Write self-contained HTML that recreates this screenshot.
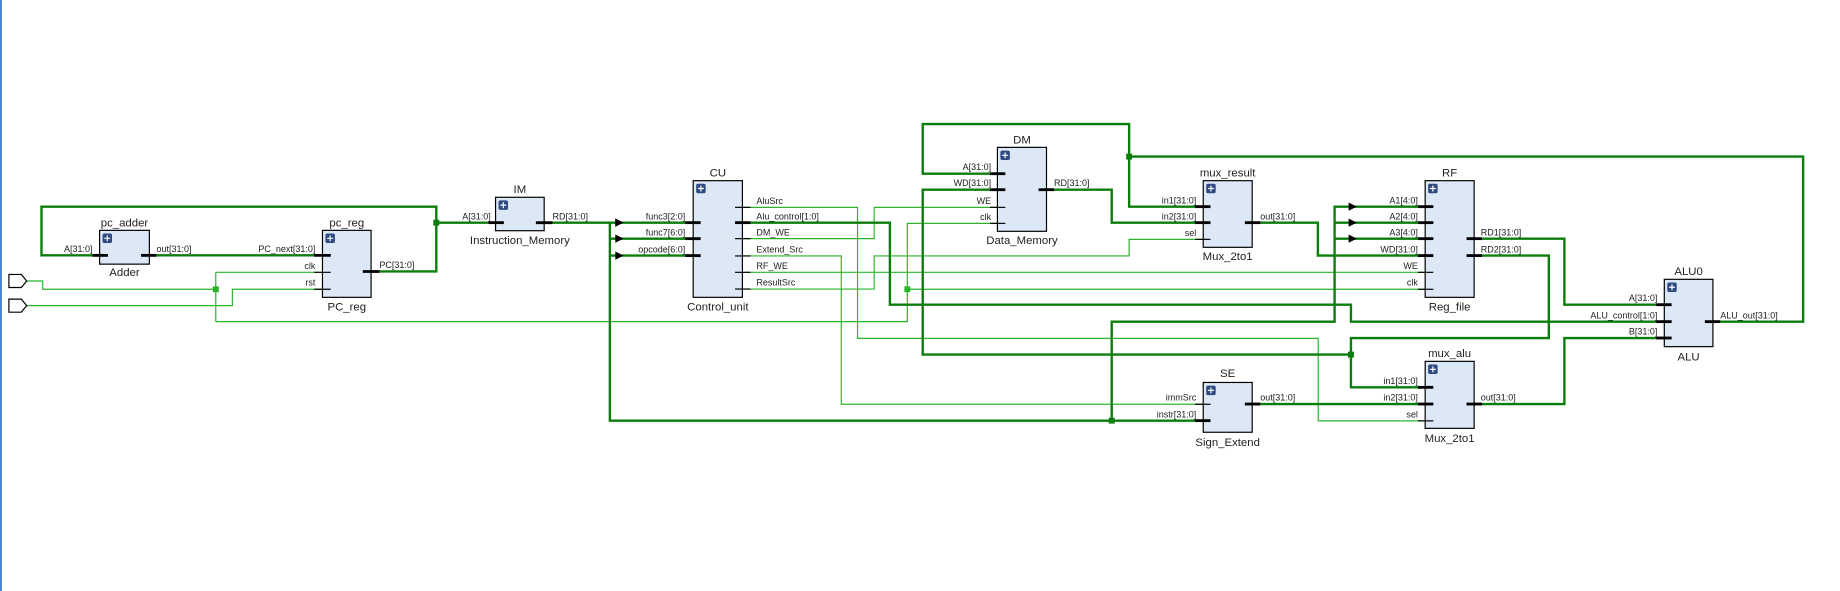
<!DOCTYPE html>
<html><head><meta charset="utf-8"><style>
html,body{margin:0;padding:0;background:#fff;width:1840px;height:591px;overflow:hidden}
svg{display:block}
text{font-family:"Liberation Sans",sans-serif;fill:#222}
.p{font-size:7.6px}
.t{font-size:9.6px}
.k{fill:none;stroke:#0b7d0b;stroke-width:2}
.n{fill:none;stroke:#2bb52b;stroke-width:1}
.b{fill:#dde8f6;stroke:#000;stroke-width:1}
.s{stroke:#000;stroke-width:2.4}
.s1{stroke:#000;stroke-width:1}
.j{fill:#0b7d0b}
.jn{fill:#2bb52b}
</style></head><body>
<svg width="1840" height="591" viewBox="0 0 1552 498.5" preserveAspectRatio="none">
<rect x="0" y="0" width="1.6" height="498.5" fill="#4a7fd0"/>
<!-- thin wires -->
<g class="n">
<path d="M22 237H36V244H182M182 229.7V271.3M182 229.7H272M182 271.3H765.3V188.4H841.3M765.3 244H1202.1"/>
<path d="M22 257.8H196V244H272"/>
<path d="M626.2 174.9H723.3V285.4H1111.9V355H1202.1"/>
<path d="M626.2 201.3H737.3V174.9H841.3"/>
<path d="M626.2 215.9H709.6V341H1014.9"/>
<path d="M626.2 229.7H1202.1"/>
<path d="M626.2 243.8H737.3V215.9H952.4V201.9H1014.9"/>
</g>
<rect class="jn" x="179.5" y="241.5" width="5" height="5"/>
<rect class="jn" x="762.8" y="241.5" width="5" height="5"/>
<!-- thick wires -->
<g class="k">
<path d="M84 215.4H35V174.3H368V229H313"/>
<path d="M126 215.4H272"/>
<path d="M368 187.8H418"/>
<path d="M459 187.8H514.4V354.8H1014.9M514.4 201.3H584.7M514.4 215.6H584.7M514.4 187.8H584.7"/>
<path d="M937.7 354.8V271.3H1125.7V174.3H1202.1M1125.7 187.8H1202.1M1125.7 201.3H1202.1"/>
<path d="M626.2 187.8H750.6V257H1139.5V271.3H1403.8"/>
<path d="M841.3 146.5H778.3V104.6H952.4V174.3H1014.9M952.4 132.1H1520.9V271.3H1444.8"/>
<path d="M841.3 160H778.3V299.1H1139.5"/>
<path d="M1243.4 215.6H1306.4V285.1H1139.5V326.7H1202.1"/>
<path d="M882.7 160H937.7V187.8H1014.9"/>
<path d="M1056.2 187.8H1111.6V215.6H1202.1"/>
<path d="M1243.4 201.3H1319.5V257H1403.8"/>
<path d="M1056.2 340.8H1202.1"/>
<path d="M1243.4 340.8H1319.5V285.1H1403.8"/>
</g>
<rect class="j" x="365.5" y="185.3" width="5" height="5"/>
<rect class="j" x="935.2" y="352.3" width="5" height="5"/>
<rect class="j" x="949.9" y="129.6" width="5" height="5"/>
<rect class="j" x="1137" y="296.6" width="5" height="5"/>
<!-- arrowheads -->
<g fill="#000">
<path d="M519 187.8l6 0-6-3.5z M519 187.8l6 0-6 3.5z"/>
<path d="M519 184.3L526 187.8L519 191.3Z"/>
<path d="M519 197.8L526 201.3L519 204.8Z"/>
<path d="M519 212.1L526 215.6L519 219.1Z"/>
<path d="M1137.5 170.8L1144.5 174.3L1137.5 177.8Z"/>
<path d="M1137.5 184.3L1144.5 187.8L1137.5 191.3Z"/>
<path d="M1137.5 197.8L1144.5 201.3L1137.5 204.8Z"/>
</g>
<!-- ports -->
<path d="M7.5 231.5H18L22.5 237L18 242.5H7.5Z" fill="#fff" stroke="#000" stroke-width="1"/>
<path d="M7.5 252.3H18L22.5 257.8L18 263.3H7.5Z" fill="#fff" stroke="#000" stroke-width="1"/>

<!-- pc_adder -->
<rect class="b" x="84" y="194.3" width="42" height="28.5"/>
<text class="t" x="105" y="191" text-anchor="middle">pc_adder</text>
<text class="t" x="105" y="233" text-anchor="middle">Adder</text>
<line class="s" x1="78" y1="215.4" x2="91" y2="215.4"/><line class="s" x1="119" y1="215.4" x2="132" y2="215.4"/>
<text class="p" x="78" y="212.5" text-anchor="end">A[31:0]</text>
<text class="p" x="132" y="212.5">out[31:0]</text>
<!-- pc_reg -->
<rect class="b" x="272" y="194.3" width="41" height="56.5"/>
<text class="t" x="292.5" y="191" text-anchor="middle">pc_reg</text>
<text class="t" x="292.5" y="262" text-anchor="middle">PC_reg</text>
<line class="s" x1="265" y1="215.4" x2="279" y2="215.4"/>
<line class="s1" x1="265" y1="229.7" x2="279" y2="229.7"/>
<line class="s1" x1="265" y1="244" x2="279" y2="244"/>
<line class="s" x1="306" y1="229" x2="320" y2="229"/>
<text class="p" x="266" y="212.5" text-anchor="end">PC_next[31:0]</text>
<text class="p" x="266" y="227" text-anchor="end">clk</text>
<text class="p" x="266" y="241" text-anchor="end">rst</text>
<text class="p" x="320" y="226">PC[31:0]</text>
<!-- IM -->
<rect class="b" x="418" y="166.4" width="41" height="28.2"/>
<text class="t" x="438.5" y="163" text-anchor="middle">IM</text>
<text class="t" x="438.5" y="206" text-anchor="middle">Instruction_Memory</text>
<line class="s" x1="412" y1="187.8" x2="425" y2="187.8"/><line class="s" x1="452" y1="187.8" x2="466" y2="187.8"/>
<text class="p" x="414" y="185" text-anchor="end">A[31:0]</text>
<text class="p" x="466" y="185">RD[31:0]</text>
<!-- CU -->
<rect class="b" x="584.7" y="152.4" width="41.5" height="98.4"/>
<text class="t" x="605.5" y="149" text-anchor="middle">CU</text>
<text class="t" x="605.5" y="262" text-anchor="middle">Control_unit</text>
<line class="s" x1="578" y1="187.8" x2="591" y2="187.8"/><line class="s" x1="578" y1="201.3" x2="591" y2="201.3"/><line class="s" x1="578" y1="215.6" x2="591" y2="215.6"/>
<text class="p" x="578" y="185" text-anchor="end">func3[2:0]</text>
<text class="p" x="578" y="198.5" text-anchor="end">func7[6:0]</text>
<text class="p" x="578" y="212.8" text-anchor="end">opcode[6:0]</text>
<line class="s1" x1="620" y1="174.9" x2="633" y2="174.9"/>
<line class="s" x1="620" y1="187.8" x2="633" y2="187.8"/>
<line class="s1" x1="620" y1="201.3" x2="633" y2="201.3"/>
<line class="s1" x1="620" y1="215.9" x2="633" y2="215.9"/>
<line class="s1" x1="620" y1="229.7" x2="633" y2="229.7"/>
<line class="s1" x1="620" y1="243.8" x2="633" y2="243.8"/>
<text class="p" x="638" y="172">AluSrc</text>
<text class="p" x="638" y="185">Alu_control[1:0]</text>
<text class="p" x="638" y="198.5">DM_WE</text>
<text class="p" x="638" y="213">Extend_Src</text>
<text class="p" x="638" y="227">RF_WE</text>
<text class="p" x="638" y="241">ResultSrc</text>
<!-- DM -->
<rect class="b" x="841.3" y="124.3" width="41.4" height="70.8"/>
<text class="t" x="862" y="121" text-anchor="middle">DM</text>
<text class="t" x="862" y="206" text-anchor="middle">Data_Memory</text>
<line class="s" x1="835" y1="146.5" x2="848" y2="146.5"/><line class="s" x1="835" y1="160" x2="848" y2="160"/>
<line class="s1" x1="835" y1="174.9" x2="848" y2="174.9"/><line class="s1" x1="835" y1="188.4" x2="848" y2="188.4"/>
<line class="s" x1="876" y1="160" x2="889" y2="160"/>
<text class="p" x="836" y="143.5" text-anchor="end">A[31:0]</text>
<text class="p" x="836" y="157" text-anchor="end">WD[31:0]</text>
<text class="p" x="836" y="172" text-anchor="end">WE</text>
<text class="p" x="836" y="185.5" text-anchor="end">clk</text>
<text class="p" x="889" y="157">RD[31:0]</text>
<!-- mux_result -->
<rect class="b" x="1014.9" y="152.4" width="41.3" height="56.2"/>
<text class="t" x="1035.5" y="149" text-anchor="middle">mux_result</text>
<text class="t" x="1035.5" y="219.5" text-anchor="middle">Mux_2to1</text>
<line class="s" x1="1008" y1="174.3" x2="1021" y2="174.3"/><line class="s" x1="1008" y1="187.8" x2="1021" y2="187.8"/>
<line class="s1" x1="1008" y1="201.9" x2="1021" y2="201.9"/><line class="s" x1="1050" y1="187.8" x2="1063" y2="187.8"/>
<text class="p" x="1009" y="171.5" text-anchor="end">in1[31:0]</text>
<text class="p" x="1009" y="185" text-anchor="end">in2[31:0]</text>
<text class="p" x="1009" y="199" text-anchor="end">sel</text>
<text class="p" x="1063" y="185">out[31:0]</text>
<!-- RF -->
<rect class="b" x="1202.1" y="152.4" width="41.3" height="98.4"/>
<text class="t" x="1222.7" y="149" text-anchor="middle">RF</text>
<text class="t" x="1222.7" y="262" text-anchor="middle">Reg_file</text>
<line class="s" x1="1196" y1="174.3" x2="1209" y2="174.3"/><line class="s" x1="1196" y1="187.8" x2="1209" y2="187.8"/>
<line class="s" x1="1196" y1="201.3" x2="1209" y2="201.3"/><line class="s" x1="1196" y1="215.6" x2="1209" y2="215.6"/>
<line class="s1" x1="1196" y1="229.7" x2="1209" y2="229.7"/><line class="s1" x1="1196" y1="244" x2="1209" y2="244"/>
<line class="s" x1="1237" y1="201.3" x2="1250" y2="201.3"/><line class="s" x1="1237" y1="215.6" x2="1250" y2="215.6"/>
<text class="p" x="1196" y="171.5" text-anchor="end">A1[4:0]</text>
<text class="p" x="1196" y="185" text-anchor="end">A2[4:0]</text>
<text class="p" x="1196" y="198.5" text-anchor="end">A3[4:0]</text>
<text class="p" x="1196" y="212.8" text-anchor="end">WD[31:0]</text>
<text class="p" x="1196" y="227" text-anchor="end">WE</text>
<text class="p" x="1196" y="241" text-anchor="end">clk</text>
<text class="p" x="1249" y="198.5">RD1[31:0]</text>
<text class="p" x="1249" y="212.8">RD2[31:0]</text>
<!-- ALU -->
<rect class="b" x="1403.8" y="235.6" width="41" height="56.8"/>
<text class="t" x="1424.3" y="232" text-anchor="middle">ALU0</text>
<text class="t" x="1424.3" y="304" text-anchor="middle">ALU</text>
<line class="s" x1="1397" y1="257" x2="1410" y2="257"/><line class="s" x1="1397" y1="271.3" x2="1410" y2="271.3"/>
<line class="s" x1="1397" y1="285.1" x2="1410" y2="285.1"/><line class="s" x1="1438" y1="271.3" x2="1451" y2="271.3"/>
<text class="p" x="1398" y="254" text-anchor="end">A[31:0]</text>
<text class="p" x="1398" y="268.5" text-anchor="end">ALU_control[1:0]</text>
<text class="p" x="1398" y="282.3" text-anchor="end">B[31:0]</text>
<text class="p" x="1451" y="268.5">ALU_out[31:0]</text>
<!-- SE -->
<rect class="b" x="1014.9" y="322.6" width="41.3" height="42"/>
<text class="t" x="1035.5" y="318" text-anchor="middle">SE</text>
<text class="t" x="1035.5" y="376" text-anchor="middle">Sign_Extend</text>
<line class="s1" x1="1008" y1="341" x2="1021" y2="341"/><line class="s" x1="1008" y1="354.8" x2="1021" y2="354.8"/>
<line class="s" x1="1050" y1="340.8" x2="1063" y2="340.8"/>
<text class="p" x="1009" y="338" text-anchor="end">immSrc</text>
<text class="p" x="1009" y="352" text-anchor="end">instr[31:0]</text>
<text class="p" x="1063" y="338">out[31:0]</text>
<!-- mux_alu -->
<rect class="b" x="1202.1" y="304.8" width="41.3" height="56.5"/>
<text class="t" x="1222.7" y="301" text-anchor="middle">mux_alu</text>
<text class="t" x="1222.7" y="373" text-anchor="middle">Mux_2to1</text>
<line class="s" x1="1196" y1="326.7" x2="1209" y2="326.7"/><line class="s" x1="1196" y1="340.8" x2="1209" y2="340.8"/>
<line class="s1" x1="1196" y1="355" x2="1209" y2="355"/><line class="s" x1="1237" y1="340.8" x2="1250" y2="340.8"/>
<text class="p" x="1196" y="324" text-anchor="end">in1[31:0]</text>
<text class="p" x="1196" y="338" text-anchor="end">in2[31:0]</text>
<text class="p" x="1196" y="352" text-anchor="end">sel</text>
<text class="p" x="1249" y="338">out[31:0]</text>
<!-- plus icons -->
<g>
<rect x="86.5" y="197" width="8" height="8" rx="1.5" fill="#2f4a80"/>
<rect x="274.5" y="197" width="8" height="8" rx="1.5" fill="#2f4a80"/>
<rect x="420.5" y="169" width="8" height="8" rx="1.5" fill="#2f4a80"/>
<rect x="587.2" y="155" width="8" height="8" rx="1.5" fill="#2f4a80"/>
<rect x="843.8" y="127" width="8" height="8" rx="1.5" fill="#2f4a80"/>
<rect x="1017.4" y="155" width="8" height="8" rx="1.5" fill="#2f4a80"/>
<rect x="1204.6" y="155" width="8" height="8" rx="1.5" fill="#2f4a80"/>
<rect x="1406.3" y="238.3" width="8" height="8" rx="1.5" fill="#2f4a80"/>
<rect x="1017.4" y="325.3" width="8" height="8" rx="1.5" fill="#2f4a80"/>
<rect x="1204.6" y="307.5" width="8" height="8" rx="1.5" fill="#2f4a80"/>
</g>
<g stroke="#fff" stroke-width="1">
<path d="M88 201h5M90.5 198.5v5"/>
<path d="M276 201h5M278.5 198.5v5"/>
<path d="M422 173h5M424.5 170.5v5"/>
<path d="M588.7 159h5M591.2 156.5v5"/>
<path d="M845.3 131h5M847.8 128.5v5"/>
<path d="M1018.9 159h5M1021.4 156.5v5"/>
<path d="M1206.1 159h5M1208.6 156.5v5"/>
<path d="M1407.8 242.3h5M1410.3 239.8v5"/>
<path d="M1018.9 329.3h5M1021.4 326.8v5"/>
<path d="M1206.1 311.5h5M1208.6 309v5"/>
</g>
</svg>
</body></html>
